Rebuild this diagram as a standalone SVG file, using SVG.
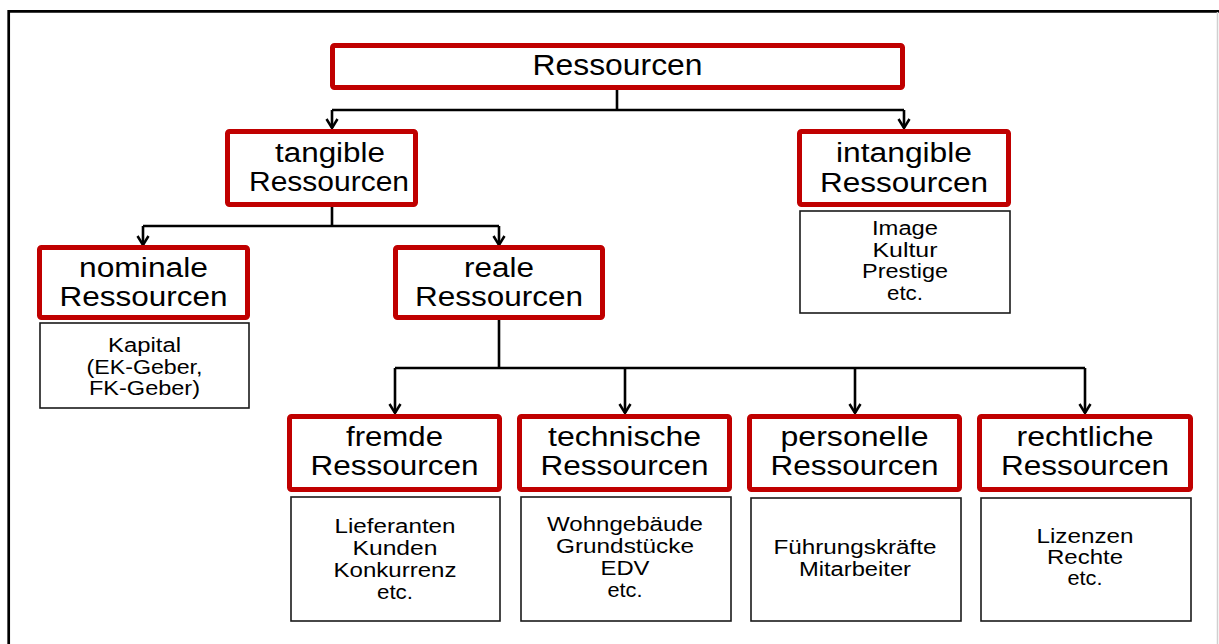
<svg xmlns="http://www.w3.org/2000/svg" width="1219" height="644" viewBox="0 0 1219 644">
<defs>
<style>
.frame{fill:none;stroke:#000;stroke-width:2.7}
.node{fill:#fff;stroke:#C00000;stroke-width:5}
.detail{fill:#fff;stroke:#1a1a1a;stroke-width:1.6}
.conn{fill:none;stroke:#000;stroke-width:2.6}
.h{font-family:"Liberation Sans",Arial,sans-serif;font-size:27px;fill:#000;text-anchor:middle}
.top{font-family:"Liberation Sans",Arial,sans-serif;font-size:30px;fill:#000;text-anchor:middle}
.d{font-family:"Liberation Sans",Arial,sans-serif;font-size:20px;fill:#000;text-anchor:middle}
</style>
<marker id="arr" viewBox="-11 -7 13 14" refX="0" refY="0" markerWidth="13" markerHeight="14" markerUnits="userSpaceOnUse" orient="auto">
<path d="M-9,-5.5 L0,0 L-9,5.5" fill="none" stroke="#000" stroke-width="2.5"/>
</marker>
</defs>
<rect width="1219" height="644" fill="#fff"/>
<path class="frame" d="M8.7,644 V11.3 H1219"/>
<line x1="1217.5" y1="12" x2="1217.5" y2="644" stroke="#d0d0d0" stroke-width="1.5"/>

<g id="connectors">
<path class="conn" d="M617,90 V110 M332,110 H904"/>
<path class="conn" d="M332,110 V128" marker-end="url(#arr)"/>
<path class="conn" d="M904,110 V128" marker-end="url(#arr)"/>
<path class="conn" d="M332,207 V226 M143,226 H499"/>
<path class="conn" d="M143,226 V245" marker-end="url(#arr)"/>
<path class="conn" d="M499,226 V245" marker-end="url(#arr)"/>
<path class="conn" d="M499,320 V368 M395,368 H1085"/>
<path class="conn" d="M395,368 V413" marker-end="url(#arr)"/>
<path class="conn" d="M625,368 V413" marker-end="url(#arr)"/>
<path class="conn" d="M855,368 V413" marker-end="url(#arr)"/>
<path class="conn" d="M1085,368 V413" marker-end="url(#arr)"/>
</g>

<g id="ressourcen">
<rect class="node" x="332.5" y="45.5" width="570" height="42" rx="2"/>
<text class="top" x="617.5" y="75" textLength="170" lengthAdjust="spacingAndGlyphs">Ressourcen</text>
</g>

<g id="tangible">
<rect class="node" x="227.5" y="131.5" width="188" height="73" rx="2"/>
<text class="h" x="330" y="162" textLength="110" lengthAdjust="spacingAndGlyphs">tangible</text>
<text class="h" x="329" y="191" textLength="160" lengthAdjust="spacingAndGlyphs">Ressourcen</text>
</g>

<g id="intangible">
<rect class="node" x="799.5" y="131.5" width="209" height="73" rx="2"/>
<text class="h" x="904" y="162" textLength="136" lengthAdjust="spacingAndGlyphs">intangible</text>
<text class="h" x="904" y="192" textLength="168" lengthAdjust="spacingAndGlyphs">Ressourcen</text>
<rect class="detail" x="800" y="211" width="210" height="102"/>
<text class="d" x="905" y="235" textLength="66" lengthAdjust="spacingAndGlyphs">Image</text>
<text class="d" x="905" y="257" textLength="65" lengthAdjust="spacingAndGlyphs">Kultur</text>
<text class="d" x="905" y="278" textLength="86" lengthAdjust="spacingAndGlyphs">Prestige</text>
<text class="d" x="905" y="300" textLength="36" lengthAdjust="spacingAndGlyphs">etc.</text>
</g>

<g id="nominale">
<rect class="node" x="39.5" y="247.5" width="208" height="70" rx="2"/>
<text class="h" x="143.5" y="277" textLength="129" lengthAdjust="spacingAndGlyphs">nominale</text>
<text class="h" x="143.5" y="306" textLength="168" lengthAdjust="spacingAndGlyphs">Ressourcen</text>
<rect class="detail" x="40" y="323" width="209" height="85"/>
<text class="d" x="144.5" y="352" textLength="73" lengthAdjust="spacingAndGlyphs">Kapital</text>
<text class="d" x="144.5" y="374" textLength="116" lengthAdjust="spacingAndGlyphs">(EK-Geber,</text>
<text class="d" x="144.5" y="395" textLength="111" lengthAdjust="spacingAndGlyphs">FK-Geber)</text>
</g>

<g id="reale">
<rect class="node" x="395.5" y="247.5" width="207" height="70" rx="2"/>
<text class="h" x="499" y="277" textLength="70" lengthAdjust="spacingAndGlyphs">reale</text>
<text class="h" x="499" y="306" textLength="168" lengthAdjust="spacingAndGlyphs">Ressourcen</text>
</g>

<g id="fremde">
<rect class="node" x="289.5" y="416.5" width="210" height="73" rx="2"/>
<text class="h" x="394.5" y="446" textLength="97" lengthAdjust="spacingAndGlyphs">fremde</text>
<text class="h" x="394.5" y="475" textLength="168" lengthAdjust="spacingAndGlyphs">Ressourcen</text>
<rect class="detail" x="291" y="497" width="209" height="124"/>
<text class="d" x="395" y="533" textLength="121" lengthAdjust="spacingAndGlyphs">Lieferanten</text>
<text class="d" x="395" y="555" textLength="85" lengthAdjust="spacingAndGlyphs">Kunden</text>
<text class="d" x="395" y="577" textLength="123" lengthAdjust="spacingAndGlyphs">Konkurrenz</text>
<text class="d" x="395" y="599" textLength="36" lengthAdjust="spacingAndGlyphs">etc.</text>
</g>

<g id="technische">
<rect class="node" x="519.5" y="416.5" width="210" height="73" rx="2"/>
<text class="h" x="624.5" y="446" textLength="153" lengthAdjust="spacingAndGlyphs">technische</text>
<text class="h" x="624.5" y="475" textLength="168" lengthAdjust="spacingAndGlyphs">Ressourcen</text>
<rect class="detail" x="521" y="497" width="210" height="124"/>
<text class="d" x="625" y="531" textLength="156" lengthAdjust="spacingAndGlyphs">Wohngebäude</text>
<text class="d" x="625" y="553" textLength="138" lengthAdjust="spacingAndGlyphs">Grundstücke</text>
<text class="d" x="625" y="575" textLength="49" lengthAdjust="spacingAndGlyphs">EDV</text>
<text class="d" x="625" y="597" textLength="35" lengthAdjust="spacingAndGlyphs">etc.</text>
</g>

<g id="personelle">
<rect class="node" x="749.5" y="416.5" width="210" height="73" rx="2"/>
<text class="h" x="854.5" y="446" textLength="148" lengthAdjust="spacingAndGlyphs">personelle</text>
<text class="h" x="854.5" y="475" textLength="168" lengthAdjust="spacingAndGlyphs">Ressourcen</text>
<rect class="detail" x="751" y="498" width="210" height="123"/>
<text class="d" x="855" y="554" textLength="163" lengthAdjust="spacingAndGlyphs">Führungskräfte</text>
<text class="d" x="855" y="576" textLength="112" lengthAdjust="spacingAndGlyphs">Mitarbeiter</text>
</g>

<g id="rechtliche">
<rect class="node" x="979.5" y="416.5" width="211" height="73" rx="2"/>
<text class="h" x="1085" y="446" textLength="137" lengthAdjust="spacingAndGlyphs">rechtliche</text>
<text class="h" x="1085" y="475" textLength="168" lengthAdjust="spacingAndGlyphs">Ressourcen</text>
<rect class="detail" x="981" y="498" width="210" height="123"/>
<text class="d" x="1085" y="543" textLength="97" lengthAdjust="spacingAndGlyphs">Lizenzen</text>
<text class="d" x="1085" y="564" textLength="76" lengthAdjust="spacingAndGlyphs">Rechte</text>
<text class="d" x="1085" y="585" textLength="35" lengthAdjust="spacingAndGlyphs">etc.</text>
</g>
</svg>
